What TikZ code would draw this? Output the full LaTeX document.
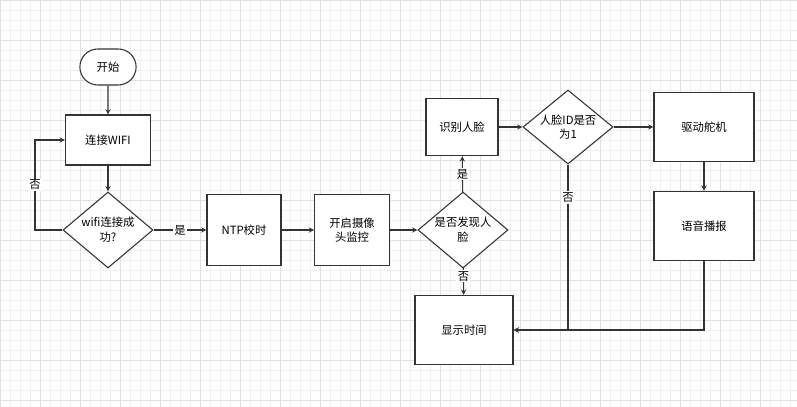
\documentclass[tikz,border=0pt]{standalone}
\usepackage{fontspec}
\setmainfont{Noto Sans CJK SC}
\usetikzlibrary{arrows,shapes,shapes.geometric,calc,positioning}
\tikzstyle{edge}    =[->, >=stealth, line width=0.8pt, draw=black!80]
\tikzstyle{box}     =[rectangle, draw=black!80, line width=0.8pt, fill=white,
                      minimum width=74pt*0.75/0.75, inner sep=2pt, align=center,
                      font=\fontsize{8.5}{11}\selectfont]
\tikzstyle{choice}  =[diamond, draw=black!80, line width=0.8pt, fill=white,
                      minimum width=67.5pt, minimum height=57pt, inner sep=0pt,
                      aspect=1.2, align=center, font=\fontsize{8.5}{11}\selectfont]
\tikzstyle{term}    =[rounded rectangle, draw=black!80, line width=0.8pt, fill=white,
                      inner xsep=12pt, minimum height=27pt,
                      font=\fontsize{8.5}{11}\selectfont]
\tikzstyle{label}   =[inner sep=1pt, fill=white, draw=none,
                      font=\fontsize{8.5}{11}\selectfont]

\begin{document}
\begin{tikzpicture}[x=0.75pt, y=-0.75pt]
            \useasboundingbox (0,0) rectangle (797,407);
            \fill[white] (0,0) rectangle (797,407);
            \draw[black!6, line width=0.3pt, step=7.5pt] (0,0) grid (797,407);
            \draw[black!12, line width=0.4pt, step=30pt] (0,0) grid (797,407);
            \node (start) [term] at (108, 67) {开始};
            \node (wifi) [box, minimum width=63.75pt, minimum height=37.5pt] at (108, 140) {连接WIFI};
            \node (ok) [choice] at (108, 230) {wifi连接成\\功?};
            \node (ntp) [box, minimum width=55.5pt, minimum height=53pt] at (244, 230) {NTP校时};
            \node (cam) [box, minimum width=56pt, minimum height=53pt] at (352, 230) {开启摄像\\头监控};
            \node (face) [choice] at (463, 230) {是否发现人\\脸};
            \node (rec) [box, minimum width=54pt, minimum height=43pt] at (462, 127) {识别人脸};
            \node (id) [choice, minimum height=55.5pt] at (568, 127) {人脸ID是否\\为1};
            \node (servo) [box, minimum width=75pt, minimum height=52pt] at (704, 127) {驱动舵机};
            \node (voice) [box, minimum width=75pt, minimum height=52pt] at (704, 226) {语音播报};
            \node (time) [box, minimum width=73.5pt, minimum height=52pt] at (464, 330) {显示时间};
            \coordinate (loop) at (35, 230);
            \coordinate (back) at (35, 140);
            \coordinate (idd) at (568, 330);
            \coordinate (vd) at (704, 330);
            \draw[edge] (start) -- (wifi);
            \draw[edge] (wifi) -- (ok);
            \draw[edge] (ok) -- node[label] {是} (ntp);
            \draw[edge] (ok.west) -- (loop) -- node[label] {否} (back) -- (wifi.west);
            \draw[edge] (ntp) -- (cam);
            \draw[edge] (cam) -- (face);
            \draw[edge] (face) -- node[label] {是} (rec);
            \draw[edge] (face) -- node[label, pos=0.3] {否} (time);
            \draw[edge] (rec) -- (id);
            \draw[edge] (id) -- (servo);
            \draw[edge] (servo) -- (voice);
            \draw[edge] (id.south) -- node[label, pos=0.2] {否} (idd) -- (time.east);
            \draw[edge] (voice.south) -- (vd) -- (time.east);

        \end{tikzpicture}
\end{document}
